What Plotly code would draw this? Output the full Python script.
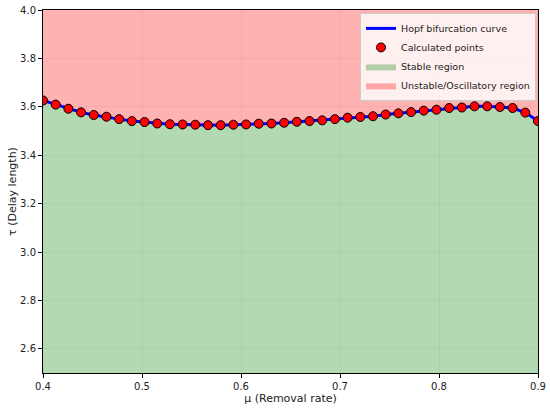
import numpy as np
import plotly.graph_objects as go

mu = np.linspace(0.4, 0.9, 40)
tau = [3.626, 3.609, 3.592, 3.577, 3.566, 3.559, 3.549, 3.541, 3.537, 3.531,
       3.528, 3.527, 3.526, 3.524, 3.524, 3.526, 3.527, 3.530, 3.531, 3.534,
       3.538, 3.541, 3.544, 3.549, 3.555, 3.558, 3.561, 3.568, 3.573, 3.578,
       3.584, 3.588, 3.595, 3.597, 3.602, 3.602, 3.599, 3.595, 3.576, 3.541]
y_min, y_max = 2.5, 4.0
x_ticks = [0.4, 0.5, 0.6, 0.7, 0.8, 0.9]
y_ticks = [2.6, 2.8, 3.0, 3.2, 3.4, 3.6, 3.8, 4.0]

font = "DejaVu Sans"
fig = go.Figure()
fig.add_trace(go.Scatter(x=mu, y=[y_min] * len(mu), mode="lines",
                         line=dict(width=0), showlegend=False, hoverinfo="skip"))
fig.add_trace(go.Scatter(x=mu, y=tau, mode="lines", fill="tonexty",
                         fillcolor="rgba(0,128,0,0.3)", line=dict(width=0),
                         name="Stable region", legendrank=3))
fig.add_trace(go.Scatter(x=mu, y=[y_max] * len(mu), mode="lines", fill="tonexty",
                         fillcolor="rgba(255,0,0,0.3)", line=dict(width=0),
                         name="Unstable/Oscillatory region", legendrank=4))
fig.add_trace(go.Scatter(x=mu, y=tau, mode="lines", line=dict(color="blue", width=3),
                         name="Hopf bifurcation curve", legendrank=1))
fig.add_trace(go.Scatter(x=mu, y=tau, mode="markers",
                         marker=dict(color="red", size=9, line=dict(color="black", width=1)),
                         name="Calculated points", legendrank=2))

axis_common = dict(showline=True, linecolor="black", linewidth=1, mirror=True,
                   ticks="outside", ticklen=4, tickcolor="black",
                   showgrid=True, gridcolor="rgba(128,128,128,0.1)", zeroline=False,
                   tickfont=dict(family=font, size=10, color="#222"),
                   layer="above traces", automargin=False, ticklabeloverflow="allow")
fig.update_xaxes(range=[0.4, 0.9], tickvals=x_ticks, ticktext=[f"{v:.1f}" for v in x_ticks],
                 title=dict(text="μ (Removal rate)", font=dict(family=font, size=11, color="#222"),
                            standoff=2), **axis_common)
fig.update_yaxes(range=[y_min, y_max], tickvals=y_ticks, ticktext=[f"{v:.1f}" for v in y_ticks],
                 title=dict(text="τ (Delay length)", font=dict(family=font, size=11, color="#222"),
                            standoff=1), **axis_common)
fig.update_layout(
    width=550, height=409,
    margin=dict(l=43, r=12, t=10, b=36),
    plot_bgcolor="white", paper_bgcolor="white",
    font=dict(family=font, size=10, color="#222"),
    legend=dict(x=0.996, y=0.992, xanchor="right", yanchor="top", traceorder="normal",
                bgcolor="rgba(255,255,255,0.8)", bordercolor="#cccccc", borderwidth=1,
                font=dict(family=font, size=9.5), tracegroupgap=0,
                itemwidth=30),
)
fig.write_html("out.html", config={"displayModeBar": False},
               post_script="document.body.style.margin='0';")
